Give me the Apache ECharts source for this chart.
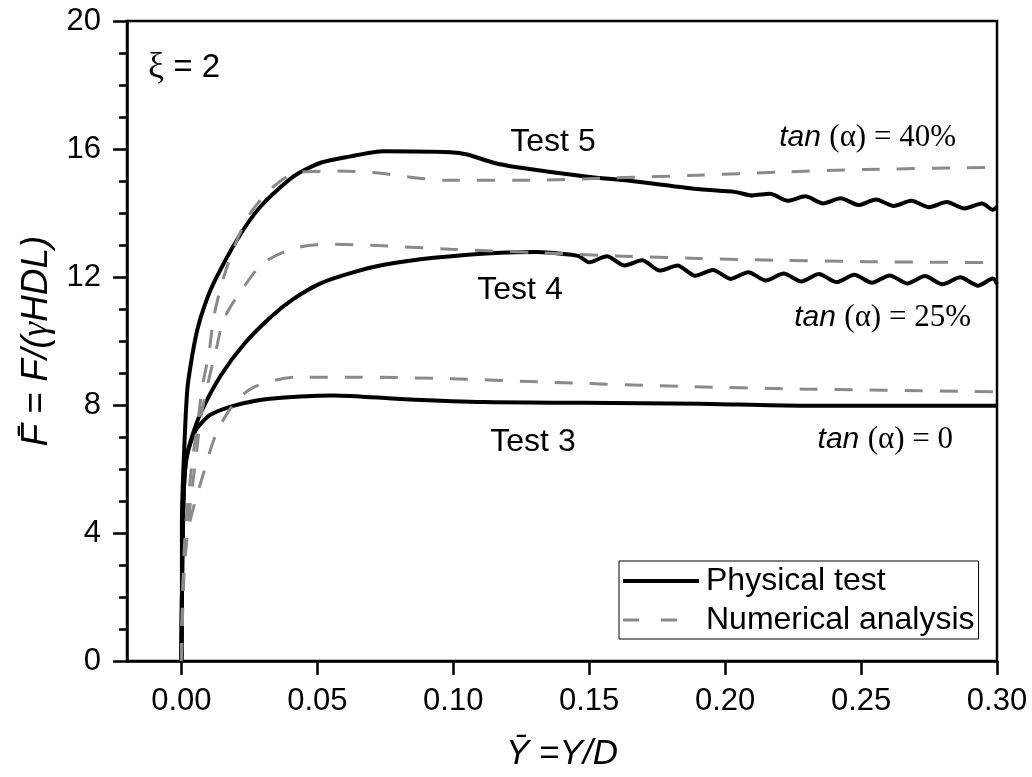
<!DOCTYPE html>
<html>
<head>
<meta charset="utf-8">
<script src="https://cdn.jsdelivr.net/npm/echarts@6/dist/echarts.min.js"></script>
<style>
  html, body { margin: 0; padding: 0; background: #fff; }
  #chart { width: 1032px; height: 777px; }
</style>
</head>
<body>
<div id="chart"></div>
<script>
// Normalised displacement (Y/D) vs normalised force F/(γHDL), ξ = 2

const xTickValues = [0, 0.05, 0.10, 0.15, 0.20, 0.25, 0.30];

// Physical tests
const test3 = [
  [0, 0], [0.0002, 2.0], [0.0005, 4.0], [0.001, 5.5], [0.0018, 6.3], [0.0033, 6.8],
  [0.0052, 7.2], [0.0075, 7.45], [0.0108, 7.7], [0.0194, 7.98], [0.0316, 8.19],
  [0.0561, 8.3], [0.0806, 8.19], [0.1112, 8.09], [0.148, 8.07], [0.1908, 8.04],
  [0.2276, 7.98], [0.30, 7.98]
];
const test4 = [
  [0, 0], [0.0002, 2.0], [0.0005, 4.0], [0.001, 5.5], [0.0018, 6.3], [0.0035, 6.9],
  [0.0071, 7.75], [0.0145, 8.92], [0.023, 9.9], [0.0329, 10.75], [0.041, 11.3],
  [0.0512, 11.8], [0.0622, 12.12], [0.0745, 12.38], [0.0928, 12.6], [0.1173, 12.76],
  [0.1308, 12.78], [0.1418, 12.71], [0.146, 12.66],
  [0.150, 12.46], [0.1565, 12.65], [0.163, 12.36], [0.1695, 12.52], [0.176, 12.20],
  [0.1825, 12.36], [0.189, 12.04], [0.1955, 12.22], [0.202, 11.94], [0.2085, 12.15],
  [0.215, 11.89], [0.2215, 12.11], [0.228, 11.86], [0.2345, 12.09], [0.241, 11.84],
  [0.2475, 12.07], [0.254, 11.82], [0.2605, 12.05], [0.267, 11.80], [0.2735, 12.03],
  [0.280, 11.77], [0.2865, 11.99], [0.293, 11.73], [0.2985, 11.95], [0.300, 11.78]
];
const test5 = [
  [0, 0], [0.0002, 2.0], [0.0002, 4.4], [0.001, 6.53], [0.0022, 8.5], [0.0041, 9.6],
  [0.006, 10.4], [0.0085, 11.1], [0.012, 11.83], [0.0206, 13.18], [0.0292, 14.21],
  [0.0414, 15.15], [0.0512, 15.57], [0.0622, 15.77], [0.0745, 15.93], [0.099, 15.9],
  [0.1051, 15.83], [0.1149, 15.57], [0.1235, 15.43], [0.148, 15.15], [0.1663, 14.99],
  [0.1908, 14.74], [0.2035, 14.66], [0.210, 14.55], [0.2165, 14.60], [0.223, 14.38],
  [0.2295, 14.52], [0.236, 14.30], [0.2425, 14.46], [0.249, 14.25], [0.2555, 14.42],
  [0.262, 14.22], [0.2685, 14.38], [0.275, 14.18], [0.2815, 14.34], [0.288, 14.14],
  [0.2945, 14.30], [0.2985, 14.10], [0.300, 14.20]
];

// Numerical analysis
const num3 = [
  [0, 0], [0.0003, 1.5], [0.001, 3.0], [0.0025, 4.1], [0.0047, 4.87], [0.0083, 5.91],
  [0.0126, 7.05], [0.0188, 7.98], [0.0267, 8.56], [0.0427, 8.87], [0.0659, 8.87],
  [0.099, 8.82], [0.1357, 8.71], [0.1846, 8.58], [0.2276, 8.5], [0.30, 8.41]
];
const num4 = [
  [0, 0], [0.0009, 2.59], [0.002, 3.83], [0.0035, 5.08], [0.0053, 6.32], [0.0071, 7.57],
  [0.0096, 8.61], [0.0126, 9.66], [0.0157, 10.69], [0.0224, 11.62], [0.0304, 12.45],
  [0.0427, 12.92], [0.0561, 13.02], [0.0696, 12.99], [0.099, 12.87], [0.1308, 12.76],
  [0.16, 12.66], [0.19, 12.58], [0.22, 12.52], [0.252, 12.48], [0.30, 12.45]
];
const num5 = [
  [0, 0], [0.0004, 1.75], [0.0009, 3.2], [0.0016, 4.25], [0.0028, 5.29], [0.0041, 6.32],
  [0.0059, 7.36], [0.0078, 8.61], [0.0102, 9.66], [0.012, 10.79], [0.0157, 12.03],
  [0.0206, 13.18], [0.0255, 14.01], [0.0341, 14.84], [0.0427, 15.26], [0.0573, 15.31],
  [0.0696, 15.27], [0.099, 15.02], [0.1235, 15.02], [0.16, 15.1], [0.19, 15.18],
  [0.22, 15.28], [0.252, 15.36], [0.30, 15.43]
];

const SANS = 'Liberation Sans, Arial, sans-serif';
const SERIF = 'Liberation Serif, Times New Roman, serif';

const solid = { color: '#000', width: 4, type: 'solid' };
const dashed = { color: '#8a8a8a', width: 3, type: [18, 17], cap: 'butt' };

function physical(data) {
  return { name: 'Physical test', type: 'line', data, showSymbol: false, symbol: 'none',
           smooth: 0.25, lineStyle: solid, itemStyle: { color: '#000' }, z: 2, silent: true };
}
function numerical(data) {
  return { name: 'Numerical analysis', type: 'line', data, showSymbol: false, symbol: 'none',
           smooth: 0.3, lineStyle: dashed, itemStyle: { color: '#8a8a8a' }, z: 3, silent: true };
}

const tanRich = {
  i: { fontFamily: SANS, fontStyle: 'italic', fontSize: 30, color: '#000' },
  s: { fontFamily: SERIF, fontSize: 31, color: '#000' }
};

const chart = echarts.init(document.getElementById('chart'), null, { renderer: 'canvas' });
chart.setOption({
  animation: false,
  backgroundColor: '#fff',
  grid: { left: 127, right: 35, top: 21, bottom: 114, show: true,
          borderColor: '#000', borderWidth: 2.5, backgroundColor: 'transparent' },
  xAxis: {
    type: 'value', min: -0.02, max: 0.30,
    axisLine: { show: true, onZero: false, lineStyle: { color: '#000', width: 2.5 } },
    axisTick: { show: true, inside: false, length: 14, customValues: xTickValues,
                lineStyle: { color: '#000', width: 2.5 } },
    axisLabel: { customValues: xTickValues, formatter: v => v.toFixed(2), margin: 25,
                 fontFamily: SANS, fontSize: 31, color: '#000' },
    splitLine: { show: false },
    name: '{i|Y\u0304 }{r|=}{i|Y/D}',
    nameLocation: 'middle', nameGap: 76,
    nameTextStyle: { rich: {
      i: { fontFamily: SANS, fontStyle: 'italic', fontSize: 35, color: '#000' },
      r: { fontFamily: SANS, fontSize: 35, color: '#000' } } }
  },
  yAxis: {
    type: 'value', min: 0, max: 20, interval: 4,
    axisLine: { show: true, onZero: false, lineStyle: { color: '#000', width: 2.5 } },
    axisTick: { show: true, inside: false, length: 14, lineStyle: { color: '#000', width: 2.5 } },
    minorTick: { show: true, splitNumber: 4, length: 8, lineStyle: { color: '#000', width: 2.5 } },
    minorSplitLine: { show: false },
    axisLabel: { margin: 26, fontFamily: SANS, fontSize: 31, color: '#000' },
    splitLine: { show: false },
    name: '{i|F\u0304}{r| = }{i|F/(}{g|\u03b3}{i|HDL)}',
    nameLocation: 'middle', nameGap: 60,
    nameTextStyle: { rich: {
      i: { fontFamily: SANS, fontStyle: 'italic', fontSize: 37, color: '#000' },
      r: { fontFamily: SANS, fontSize: 37, color: '#000' },
      g: { fontFamily: SERIF, fontStyle: 'italic', fontSize: 37, color: '#000' } } }
  },
  legend: {
    data: [
      { name: 'Physical test' },
      { name: 'Numerical analysis', lineStyle: { type: [16, 22], width: 3, color: '#8a8a8a' } }
    ],
    orient: 'vertical', left: 619, top: 561,
    borderColor: '#000', borderWidth: 1, borderRadius: 0,
    padding: [4, 4, 3, 2], itemGap: 7, itemWidth: 76, itemHeight: 30,
    itemStyle: { color: 'rgba(0,0,0,0)', borderWidth: 0, opacity: 0 },
    lineStyle: { width: 'inherit', type: 'inherit', color: 'inherit' },
    textStyle: { fontFamily: SANS, fontSize: 32, color: '#000', padding: [0, 0, 0, 2] },
    selectedMode: false
  },
  series: [
    physical(test3), physical(test4), physical(test5),
    numerical(num3), numerical(num4), numerical(num5)
  ],
  graphic: [
    { type: 'text', x: 148, y: 68, style: { text: '{g|\u03be}{s| = 2}', align: 'left', verticalAlign: 'middle',
      rich: { g: { fontFamily: SERIF, fontSize: 36, color: '#000' }, s: { fontFamily: SANS, fontSize: 33, color: '#000' } } } },
    { type: 'text', x: 553, y: 142, style: { text: 'Test 5', font: '32px ' + SANS, fill: '#000', align: 'center', verticalAlign: 'middle' } },
    { type: 'text', x: 520, y: 290, style: { text: 'Test 4', font: '32px ' + SANS, fill: '#000', align: 'center', verticalAlign: 'middle' } },
    { type: 'text', x: 533, y: 442, style: { text: 'Test 3', font: '32px ' + SANS, fill: '#000', align: 'center', verticalAlign: 'middle' } },
    { type: 'text', x: 956, y: 138, style: { text: '{i|tan }{s|(\u03b1) = 40%}', rich: tanRich, align: 'right', verticalAlign: 'middle' } },
    { type: 'text', x: 971, y: 318, style: { text: '{i|tan }{s|(\u03b1) = 25%}', rich: tanRich, align: 'right', verticalAlign: 'middle' } },
    { type: 'text', x: 953, y: 440, style: { text: '{i|tan }{s|(\u03b1) = 0}', rich: tanRich, align: 'right', verticalAlign: 'middle' } }
  ]
});
</script>
</body>
</html>
